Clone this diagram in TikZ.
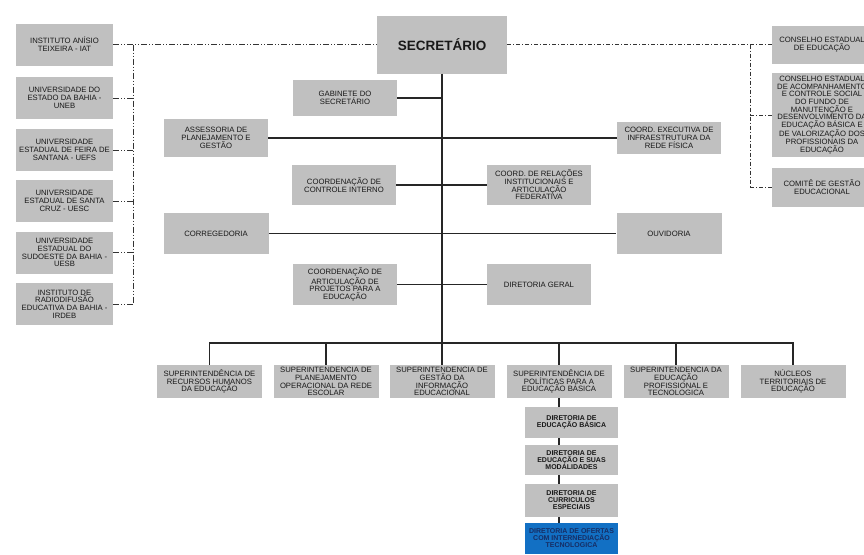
\documentclass[tikz,border=0pt]{standalone}
\usepackage{fontspec}
\setmainfont{Liberation Sans}
\usetikzlibrary{positioning}
\definecolor{boxgray}{RGB}{192,192,192}
\definecolor{txtgray}{RGB}{25,25,25}
\definecolor{ofertablue}{RGB}{18,112,196}
\definecolor{ofertatxt}{RGB}{22,45,100}
\tikzset{
	orgbox/.style = {fill=boxgray, text=txtgray, align=center, inner sep=1pt,
		font=\fontsize{7.7}{7.7}\selectfont},
	dirbox/.style = {orgbox, font=\bfseries\fontsize{7}{7}\selectfont},
	orgline/.style = {draw=black!85, line width=1.2pt},
	linkleft/.style = {draw=black!80, line width=0.75pt,
		dash pattern=on 6pt off 2pt on 1pt off 2pt on 1pt off 2pt},
	linkright/.style = {draw=black!80, line width=0.75pt,
		dash pattern=on 4pt off 2pt on 1pt off 2pt}
}

\begin{document}
\begin{tikzpicture}[x=1pt,y=-1pt]
	\useasboundingbox (0,0) rectangle (864,554);
	\fill[white] (0,0) rectangle (864,554);

	\def\wL{97}                                 % width of the left column
	\def\wM{104}                                % width of the middle boxes
	\def\wS{105}                                % width of the bottom row
	\def\yS{381.5}                              % height of the bottom row

	% Secretario
	\node[orgbox, minimum width=130, minimum height=58,
		font=\bfseries\fontsize{13.5}{13.5}\selectfont] (secretario) at (442,44.5) {SECRETÁRIO};

	% Left column
	\foreach \nm/\yy/\txt in {
		iat/44.5/{INSTITUTO ANÍSIO\\TEIXEIRA - IAT},
		uneb/98/{UNIVERSIDADE DO\\ESTADO DA BAHIA -\\UNEB},
		uefs/150/{UNIVERSIDADE\\ESTADUAL DE FEIRA DE\\SANTANA - UEFS},
		uesc/201/{UNIVERSIDADE\\ESTADUAL DE SANTA\\CRUZ - UESC},
		uesb/252.5/{UNIVERSIDADE\\ESTADUAL DO\\SUDOESTE DA BAHIA -\\UESB},
		irdeb/304/{INSTITUTO DE\\RADIODIFUSÃO\\EDUCATIVA DA BAHIA -\\IRDEB}}
		\node[orgbox, minimum width=\wL, minimum height=42] (\nm) at (64.5,\yy) {\txt};

	% Right column
	\node[orgbox, minimum width=100, minimum height=38] (cee) at (822,44.5) {CONSELHO ESTADUAL\\DE EDUCAÇÃO};
	\node[orgbox, minimum width=100, minimum height=84] (acomp) at (822,115) {CONSELHO ESTADUAL\\DE ACOMPANHAMENTO\\E CONTROLE SOCIAL\\DO FUNDO DE\\MANUTENÇÃO E\\DESENVOLVIMENTO DA\\EDUCAÇÃO BÁSICA E\\DE VALORIZAÇÃO DOS\\PROFISSIONAIS DA\\EDUCAÇÃO};
	\node[orgbox, minimum width=100, minimum height=39] (comite) at (822,187.5) {COMITÊ DE GESTÃO\\EDUCACIONAL};

	% Boxes along the main line
	\node[orgbox, minimum width=\wM, minimum height=36] (gabinete) at (345,98) {GABINETE DO\\SECRETÁRIO};
	\node[orgbox, minimum width=\wM, minimum height=38] (assessoria) at (216,138) {ASSESSORIA DE\\PLANEJAMENTO E\\GESTÃO};
	\node[orgbox, minimum width=\wM, minimum height=32] (infra) at (669,138) {COORD. EXECUTIVA DE\\INFRAESTRUTURA DA\\REDE FÍSICA};
	\node[orgbox, minimum width=\wM, minimum height=40] (controle) at (344,185) {COORDENAÇÃO DE\\CONTROLE INTERNO};
	\node[orgbox, minimum width=\wM, minimum height=40] (relacoes) at (539,185) {COORD. DE RELAÇÕES\\INSTITUCIONAIS E\\ARTICULAÇÃO\\FEDERATIVA};
	\node[orgbox, minimum width=\wS, minimum height=41] (corregedoria) at (216,233.5) {CORREGEDORIA};
	\node[orgbox, minimum width=\wS, minimum height=41] (ouvidoria) at (669,233.5) {OUVIDORIA};
	\node[orgbox, minimum width=\wM, minimum height=41] (projetos) at (345,284.5) {COORDENAÇÃO DE\\ARTICULAÇÃO DE\\PROJETOS PARA A\\EDUCAÇÃO};
	\node[orgbox, minimum width=\wM, minimum height=41] (dirgeral) at (539,284.5) {DIRETORIA GERAL};

	% Bottom row
	\foreach \nm/\xx/\txt in {
		supRH/209.5/{SUPERINTENDÊNCIA DE\\RECURSOS HUMANOS\\DA EDUCAÇÃO},
		supPlan/326/{SUPERINTENDENCIA DE\\PLANEJAMENTO\\OPERACIONAL DA REDE\\ESCOLAR},
		supGestao/442/{SUPERINTENDENCIA DE\\GESTÃO DA\\INFORMAÇÃO\\EDUCACIONAL},
		supPol/559/{SUPERINTENDÊNCIA DE\\POLÍTICAS PARA A\\EDUCAÇÃO BÁSICA},
		supProf/676/{SUPERINTENDENCIA DA\\EDUCAÇÃO\\PROFISSIONAL E\\TECNOLOGICA},
		nucleos/793/{NÚCLEOS\\TERRITORIAIS DE\\EDUCAÇÃO}}
		\node[orgbox, minimum width=\wS, minimum height=33] (\nm) at (\xx,\yS) {\txt};

	% Directorates under the superintendence
	\node[dirbox, minimum width=93, minimum height=31] (dirBas) at (571.5,422.5) {DIRETORIA DE\\EDUCAÇÃO BÁSICA};
	\node[dirbox, minimum width=93, minimum height=30] (dirMod) at (571.5,460) {DIRETORIA DE\\EDUCAÇÃO E SUAS\\MODALIDADES};
	\node[dirbox, minimum width=93, minimum height=33] (dirCur) at (571.5,500.5) {DIRETORIA DE\\CURRICULOS\\ESPECIAIS};
	\node[dirbox, minimum width=93, minimum height=31, fill=ofertablue, text=ofertatxt] (dirOfe) at (571.5,538.5) {DIRETORIA DE OFERTAS\\COM INTERNEDIAÇÃO\\TECNOLOGICA};

	% Linked bodies, left
	\coordinate (ltop) at (133,44.5);
	\draw[linkleft] (iat.east) -- (secretario.west);
	\draw[linkleft] (ltop) -- (ltop |- irdeb.east);
	\foreach \nm in {uneb,uefs,uesc,uesb,irdeb}
		\draw[linkleft] (\nm.east) -- (\nm.east -| ltop);

	% Linked bodies, right
	\coordinate (rtop) at (750,44.5);
	\draw[linkright] (secretario.east) -- (cee.west);
	\draw[linkright] (rtop) -- (rtop |- comite.west);
	\foreach \nm in {acomp,comite}
		\draw[linkright] (\nm.west -| rtop) -- (\nm.west);

	% Main line and its branches
	\coordinate (bus) at (442,343);
	\draw[orgline] (secretario.south) -- (supGestao.north);
	\draw[orgline] (gabinete.east) -- (gabinete.east -| secretario.south);
	\draw[orgline] (assessoria.east) -- (infra.west);
	\draw[orgline] (controle.east) -- (relacoes.west);
	\draw[orgline] (corregedoria.east) -- (ouvidoria.west);
	\draw[orgline] (projetos.east) -- (dirgeral.west);
	\draw[orgline] (supRH.north) |- (bus) -| (nucleos.north);
	\foreach \nm in {supPlan,supPol,supProf}
		\draw[orgline] (\nm.north) -- (\nm.north |- bus);

	% Chain below
	\draw[orgline] (supPol.south) -- (supPol.south |- dirBas.north);
	\draw[orgline] (dirBas.south -| supPol.south) -- (dirMod.north -| supPol.south);
	\draw[orgline] (dirMod.south -| supPol.south) -- (dirCur.north -| supPol.south);
	\draw[orgline] (dirCur.south -| supPol.south) -- (dirOfe.north -| supPol.south);
\end{tikzpicture}
\end{document}
